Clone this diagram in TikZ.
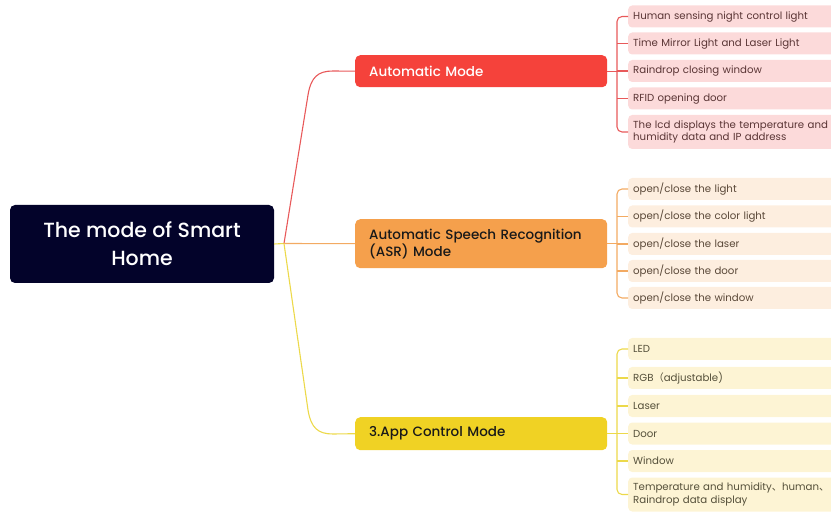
\documentclass[tikz,border=0pt]{standalone}
\usepackage{fontspec}
\setmainfont{Poppins}
\IfFontExistsTF{Poppins Medium}
  {\newfontfamily\titlef{Poppins Medium}}
  {\newfontfamily\titlef{Poppins}[FakeBold=0.6]}
\newfontfamily\cjk{Noto Sans CJK SC}
\definecolor{rootc}{HTML}{03032A}
\definecolor{redb}{HTML}{F5423B}
\definecolor{orab}{HTML}{F5A04C}
\definecolor{yelb}{HTML}{F0D224}
\definecolor{redl}{HTML}{FCDADA}
\definecolor{oral}{HTML}{FDEEDF}
\definecolor{yell}{HTML}{FDF4D4}
\definecolor{redc}{HTML}{E8595A}
\definecolor{orac}{HTML}{F3AA62}
\definecolor{yelc}{HTML}{ECD94A}
\definecolor{redt}{HTML}{5A3535}
\definecolor{orat}{HTML}{5A4838}
\definecolor{yelt}{HTML}{55503A}
\begin{document}
\begin{tikzpicture}[x=1pt,y=-1pt,
  mainbox/.style={rounded corners=5pt,anchor=north west,minimum width=252pt,inner xsep=14pt,align=left,text width=224pt,font=\titlef\fontsize{13.5}{16}\selectfont},
  leaf/.style={fill=#1,rounded corners=4pt,anchor=west,minimum width=230pt,text width=220pt,inner xsep=5pt,inner ysep=0pt,align=left,font=\fontsize{10.2}{12.2}\selectfont},
  one/.style={minimum height=22pt},
  two/.style={minimum height=34pt},
  link/.style={line width=1.1pt},
  spine/.style={line width=1.1pt,rounded corners=5pt}]
\useasboundingbox (0,0) rectangle (831,513);
\clip (0,0) rectangle (831,513);
% root
\node[fill=rootc,rounded corners=5pt,minimum width=264pt,minimum height=78pt,text=white,align=center,font=\titlef\fontsize{20.5}{28}\selectfont] (root) at (142,244) {The mode of Smart\\Home};
% level 1
\node[mainbox,fill=redb,minimum height=32pt,text=white] (am) at (355,55) {Automatic Mode};
\node[mainbox,fill=orab,minimum height=49pt,text=black!90,font=\titlef\fontsize{13.5}{17}\selectfont] (asr) at (355,219) {Automatic Speech Recognition\\(ASR) Mode};
\node[mainbox,fill=yelb,minimum height=33pt,text=black!90] (app) at (355,417) {3.App Control Mode};
\coordinate (hub) at (284,243.5);
\draw[link,yelc] (root.east) -- (hub);
\draw[link,redc] (hub) -- (308,95) .. controls (311,77) and (318,71) .. (333,71) -- (am.west);
\draw[link,orac] (hub) -- (asr.west);
\draw[link,yelc] (hub) -- (308,410) .. controls (311,428) and (318,434) .. (333,434) -- (app.west);
% red leaves
\begin{scope}[every node/.style={leaf=redl,text=redt}]
\node[one] (r1) at (628,16.5) {Human sensing night control light};
\node[one] (r2) at (628,43.5) {Time Mirror Light and Laser Light};
\node[one] (r3) at (628,71) {Raindrop closing window};
\node[one] (r4) at (628,98.5) {RFID opening door};
\node[two] (r5) at (628,132) {The lcd displays the temperature and\\humidity data and IP address};
\end{scope}
\coordinate (rs) at (617,0);
\draw[link,redc] (am.east) -- (am.east -| rs);
\draw[spine,redc] (r1.west) -- (r1.west -| rs) -- (r5.west -| rs) -- (r5.west);
\foreach \n in {r2,r3,r4} \draw[link,redc] (\n.west -| rs) -- (\n.west);
% orange leaves
\begin{scope}[every node/.style={leaf=oral,text=orat}]
\node[one] (o1) at (628,189) {open/close the light};
\node[one] (o2) at (628,216.5) {open/close the color light};
\node[one] (o3) at (628,244) {open/close the laser};
\node[one] (o4) at (628,271) {open/close the door};
\node[one] (o5) at (628,298) {open/close the window};
\end{scope}
\draw[link,orac] (asr.east) -- (asr.east -| rs);
\draw[spine,orac] (o1.west) -- (o1.west -| rs) -- (o5.west -| rs) -- (o5.west);
\foreach \n in {o2,o3,o4} \draw[link,orac] (\n.west -| rs) -- (\n.west);
% yellow leaves
\begin{scope}[every node/.style={leaf=yell,text=yelt}]
\node[one] (y1) at (628,349) {LED};
\node[one] (y2) at (628,378) {RGB{\cjk （}adjustable)};
\node[one] (y3) at (628,406) {Laser};
\node[one] (y4) at (628,433.5) {Door};
\node[one] (y5) at (628,461) {Window};
\node[two] (y6) at (628,494.5) {Temperature and humidity{\cjk 、}human{\cjk 、}\\Raindrop data display};
\end{scope}
\draw[link,yelc] (app.east) -- (app.east -| rs);
\draw[spine,yelc] (y1.west) -- (y1.west -| rs) -- (y6.west -| rs) -- (y6.west);
\foreach \n in {y2,y3,y4,y5} \draw[link,yelc] (\n.west -| rs) -- (\n.west);
\end{tikzpicture}
\end{document}
